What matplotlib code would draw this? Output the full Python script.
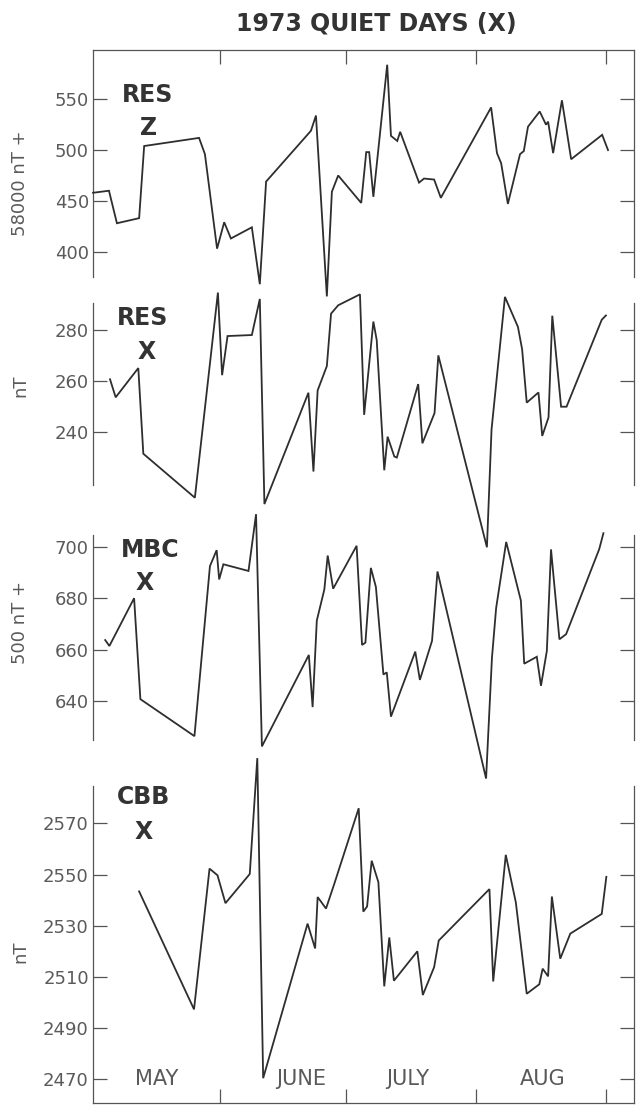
import matplotlib
matplotlib.use("Agg")
import matplotlib.pyplot as plt

# ---------------- data (day index: 1 = May 1, 1973) ----------------
resz_day = [1.7, 5.5, 7.4, 12.7, 13.9, 27.0, 28.4, 31.3, 33.0, 34.6, 39.6, 41.5, 43.0,
            53.7, 54.9, 57.5, 58.7, 60.2, 65.7, 66.9, 67.6, 68.6, 71.9, 72.8, 74.3, 75.0,
            79.5, 80.7, 83.1, 84.7, 96.7, 98.1, 99.1, 100.7, 103.6, 104.5, 105.5, 108.3,
            109.8, 110.3, 111.5, 113.6, 115.8, 123.2, 124.6]
resz_val = [458, 460, 428, 433, 504, 512, 496, 403, 429, 413, 424, 368, 469,
            519, 534, 356, 459, 475, 448, 498, 498, 454, 584, 514, 509, 518,
            468, 472, 471, 453, 542, 497, 487, 447, 496, 499, 523, 538,
            525, 528, 497, 549, 491, 515, 500]

resx_day = [5.75, 7.1, 12.5, 13.7, 26.0, 31.5, 32.5, 33.8, 39.6, 41.5, 42.6, 53.1, 54.3,
            55.3, 57.5, 58.5, 60.2, 65.4, 66.4, 68.6, 69.4, 71.2, 72.0, 73.6, 74.2, 79.3,
            80.3, 83.2, 84.1, 95.7, 96.8, 100.0, 103.1, 104.1, 105.2, 108.0, 108.9, 110.4,
            111.3, 111.8, 113.4, 114.7, 123.1, 124.1]
resx_val = [260.6, 253.5, 265.0, 231.3, 214.0, 294.7, 262.2, 277.6, 278.0, 292.2, 211.5,
            255.3, 224.3, 256.2, 265.8, 286.4, 289.7, 294.0, 246.6, 283.3, 276.0, 224.8,
            238.0, 230.2, 229.8, 258.7, 235.4, 247.3, 270.0, 194.5, 240.8, 293.0, 281.2,
            272.4, 251.4, 255.4, 238.3, 245.6, 285.6, 277.1, 249.8, 249.8, 284.0, 285.7]

mbc_day = [4.6, 5.6, 11.5, 13.0, 25.9, 29.6, 31.2, 31.8, 32.8, 38.8, 40.6, 42.0, 53.2,
           54.1, 55.1, 56.9, 57.7, 59.0, 64.6, 65.9, 66.7, 68.0, 69.2, 71.0, 71.8, 72.8,
           78.6, 79.7, 82.6, 83.9, 95.5, 96.9, 97.9, 100.3, 103.8, 104.6, 107.6, 108.6,
           110.0, 111.0, 111.4, 113.0, 114.6, 122.5, 123.5]
mbc_val = [663.7, 661.4, 680.0, 640.7, 626.3, 692.5, 698.7, 687.3, 693.2, 690.6, 712.7,
           622.3, 657.9, 637.6, 671.3, 683.4, 696.6, 683.7, 700.4, 661.8, 662.7, 691.8,
           684.4, 650.3, 651.1, 633.9, 659.2, 648.2, 663.4, 690.4, 609.8, 656.8, 676.2,
           701.9, 679.1, 654.5, 657.2, 645.9, 659.5, 699.0, 691.9, 664.0, 666.0, 699.1, 705.3]

cbb_day = [12.7, 25.8, 29.5, 31.4, 33.3, 39.1, 40.9, 42.3, 52.9, 54.7, 55.3, 57.3, 59.3,
           65.1, 66.2, 67.1, 68.2, 69.8, 71.2, 72.4, 73.5, 79.1, 80.4, 83.1, 84.2, 96.3,
           97.2, 100.2, 102.6, 105.2, 108.2, 109.0, 110.3, 111.2, 113.2, 115.6, 123.1, 124.2]
cbb_val = [2543.4, 2497.3, 2552.3, 2549.7, 2538.8, 2550.2, 2595.5, 2470.4, 2530.8, 2521.1,
           2541.2, 2536.7, 2546.5, 2575.9, 2535.5, 2537.5, 2555.4, 2547.0, 2506.3, 2525.4,
           2508.5, 2520.0, 2502.9, 2513.8, 2524.2, 2544.3, 2508.2, 2557.7, 2539.1, 2503.4,
           2507.1, 2513.2, 2510.2, 2541.4, 2517.1, 2526.9, 2534.6, 2549.1]

month_ticks = [32, 62, 93, 124]
month_names = ["MAY", "JUNE", "JULY", "AUG"]
month_label_pos = [16.9, 51.4, 76.8, 109.0]

panel_names = ["RES", "RES", "MBC", "CBB"]
panel_comp = ["Z", "X", "X", "X"]
y_labels = ["58000 nT +", "nT", "500 nT +", "nT"]
y_ticks = [[400, 450, 500, 550], [240, 260, 280], [640, 660, 680, 700],
           [2470, 2490, 2510, 2530, 2550, 2570]]
y_limits = [(375.1, 598.5), (219.0, 290.6), (624.8, 704.6), (2460.7, 2584.6)]
title = "1973 QUIET DAYS (X)"

# ---------------- layout ----------------
W, H = 636, 1106
fig = plt.figure(figsize=(W / 100, H / 100), dpi=100)
fig.patch.set_facecolor("white")

LINE = "#2e2e2e"
AX = "#555555"
LBL = "#5a5a5a"

left_px, right_px = 93, 634
panel_px = [(50, 277), (303, 485), (535, 740), (786, 1103)]
name_px = [((148, 95), (149, 128)), ((143, 318), (147, 352)),
           ((150, 550), (145, 583)), ((144, 797), (144, 832))]
ylab_px = [183, 386, 622, 952]

series = [(resz_day, resz_val), (resx_day, resx_val), (mbc_day, mbc_val), (cbb_day, cbb_val)]
xlim = (1.69, 130.8)

def fx(px):
    return px / W

def fy(py):
    return 1 - py / H

axes = []
for i, (top, bot) in enumerate(panel_px):
    ax = fig.add_axes([fx(left_px), fy(bot), (right_px - left_px) / W, (bot - top) / H])
    ax.set_facecolor("none")
    ax.set_xlim(*xlim)
    ax.set_ylim(*y_limits[i])
    d, v = series[i]
    ax.plot(d, v, color=LINE, lw=1.3, clip_on=False, zorder=5,
            solid_joinstyle="miter")
    for s in ax.spines.values():
        s.set_color(AX)
        s.set_linewidth(0.9)
    ax.spines["top"].set_visible(i == 0)
    ax.spines["bottom"].set_visible(i == 3)
    ax.set_yticks(y_ticks[i])
    ax.set_yticklabels([str(t) for t in y_ticks[i]])
    ax.tick_params(axis="y", which="both", direction="in", length=10, width=0.9,
                   color=AX, left=True, right=True, labelleft=True, labelright=False,
                   labelsize=13, labelcolor=LBL, pad=3)
    ax.set_xticks(month_ticks)
    if i == 0:
        ax.tick_params(axis="x", direction="in", length=10, width=0.9, color=AX,
                       top=True, bottom=False, labeltop=False, labelbottom=False)
    elif i == 3:
        ax.tick_params(axis="x", direction="in", length=10, width=0.9, color=AX,
                       top=False, bottom=True, labeltop=False, labelbottom=False)
    else:
        ax.tick_params(axis="x", top=False, bottom=False, labeltop=False,
                       labelbottom=False)
    (nx, ny), (cx, cy) = name_px[i]
    fig.text(fx(nx), fy(ny), panel_names[i], fontsize=17, fontweight="bold",
             color="#333333", ha="center", va="center")
    fig.text(fx(cx), fy(cy), panel_comp[i], fontsize=17, fontweight="bold",
             color="#333333", ha="center", va="center")
    fig.text(fx(20), fy(ylab_px[i]), y_labels[i], fontsize=13, color=LBL,
             rotation=90, ha="center", va="center")
    axes.append(ax)

ax4 = axes[3]
for name, pos in zip(month_names, month_label_pos):
    ax4.text(pos, 2470, name, fontsize=15, color=LBL, ha="center", va="center")

fig.text(fx(376), fy(23), title, fontsize=17, fontweight="bold", color="#333333",
         ha="center", va="center")

fig.savefig("out.png", dpi=100, facecolor="white")
